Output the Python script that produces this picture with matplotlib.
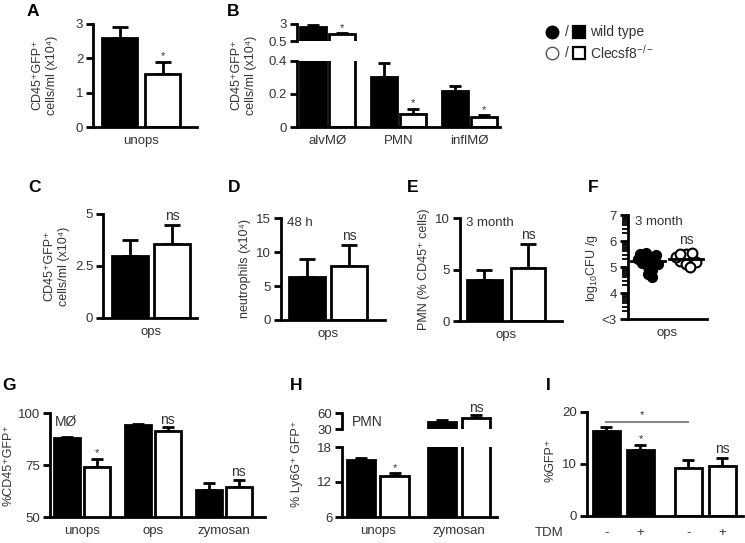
import numpy as np
import matplotlib.pyplot as plt
from matplotlib.lines import Line2D

plt.rcParams['font.family'] = ['Liberation Sans', 'DejaVu Sans']
plt.rcParams['mathtext.fontset'] = 'custom'
plt.rcParams['mathtext.rm'] = 'Liberation Sans'
plt.rcParams['mathtext.it'] = 'Liberation Sans:italic'
plt.rcParams['mathtext.bf'] = 'Liberation Sans:bold'

TXT = '#333333'

# --- data ---
a_label = 'unops'
a_vals = [2.58, 1.54]
a_err = [0.32, 0.35]

b_groups = ['alvMØ', 'PMN', 'inflMØ']
b_wt = [2.6, 0.30, 0.22]
b_wt_err = [0.25, 0.09, 0.03]
b_ko = [1.53, 0.08, 0.06]
b_ko_err = [0.10, 0.03, 0.012]

c_vals = [3.0, 3.55]
c_err = [0.75, 0.9]

d_vals = [6.3, 7.9]
d_err = [2.7, 3.1]

e_vals = [4.0, 5.15]
e_err = [0.95, 2.35]

f_wt = [5.2, 5.25, 5.15, 5.3, 5.1, 5.35, 5.4, 5.0, 5.45, 5.5, 4.9, 5.55, 4.75, 4.6]
f_ko = [5.3, 5.35, 5.25, 5.4, 5.2, 5.5, 5.5, 5.1, 5.55, 5.0]

g_groups = ['unops', 'ops', 'zymosan']
g_wt = [88.0, 94.2, 63.0]
g_wt_err = [0.4, 0.3, 3.5]
g_ko = [74.0, 91.3, 64.5]
g_ko_err = [4.0, 1.9, 3.5]

h_groups = ['unops', 'zymosan']
h_wt = [15.8, 43.0]
h_wt_err = [0.35, 4.0]
h_ko = [13.0, 50.5]
h_ko_err = [0.5, 5.5]

i_tdm = ['-', '+', '-', '+']
i_vals = [16.4, 12.7, 9.2, 9.6]
i_err = [0.7, 1.0, 1.6, 1.6]

W, H = 745, 543
fig = plt.figure(figsize=(W / 100, H / 100), dpi=100)


def add_ax(x0, y0, x1, y1):
    ax = fig.add_axes([x0 / W, 1 - y1 / H, (x1 - x0) / W, (y1 - y0) / H])
    ax.spines[['top', 'right']].set_visible(False)
    ax.spines[['left', 'bottom']].set_linewidth(2)
    ax.tick_params(axis='y', width=2, length=5, labelsize=9.5, labelcolor=TXT, pad=2)
    ax.tick_params(axis='x', length=0, labelsize=9.5, labelcolor=TXT, pad=6)
    ax.patch.set_visible(False)
    return ax


def bars(ax, pos, vals, errs, colors, width, cap):
    ax.errorbar(pos, vals, yerr=[np.zeros(len(vals)), errs], fmt='none', ecolor='k',
                elinewidth=2, capsize=cap, capthick=2, zorder=1)
    ax.bar(pos, vals, width, color=colors, edgecolor='k', linewidth=2, zorder=2)


def mark(ax, x, y, s):
    size = 8 if s == '*' else 10
    ax.text(x, y, s, ha='center', va='bottom', fontsize=size, color=TXT)


def ylab(x, y, s):
    fig.text(x / W, 1 - y / H, s, rotation=90, ha='center', va='center',
             fontsize=9, color=TXT, linespacing=1.3)


def letter(x, y, s):
    fig.text(x / W, 1 - y / H, s, ha='left', va='center', fontsize=12.5, fontweight='bold')


def swarm(vals, center, ypx, xpx, d=4.5, step=2.0):
    # simple beeswarm: nudge each point sideways until it clears the ones already placed
    placed = []
    xs = []
    for v in vals:
        for k in range(400):
            m = (k + 1) // 2
            off = m * step * (1 if k % 2 else -1)
            if all((off - px) ** 2 + (v * ypx - py) ** 2 >= d ** 2 for px, py in placed):
                break
        placed.append((off, v * ypx))
        xs.append(center + off / xpx)
    return xs


# ---------- A ----------
ax = add_ax(93, 24, 197, 127)
bars(ax, [0, 1], a_vals, a_err, ['k', 'w'], 0.81, 6)
ax.set_xlim(-0.62, 1.8)
ax.set_ylim(0, 3)
ax.set_yticks([0, 1, 2, 3])
ax.set_xticks([0.5], [a_label])
mark(ax, 1, a_vals[1] + a_err[1] + 0.02, '*')
ylab(45, 75, 'CD45⁺GFP⁺\ncells/ml (x10⁴)')
letter(27, 11, 'A')

# ---------- B ----------
b_pos_wt = np.arange(3) * 2.45
b_pos_ko = b_pos_wt + 1
axl = add_ax(297, 61, 500, 127)
axu = add_ax(297, 24, 357, 41)
for a in (axl, axu):
    bars(a, b_pos_wt, b_wt, b_wt_err, 'k', 0.9, 4.5)
    bars(a, b_pos_ko, b_ko, b_ko_err, 'w', 0.9, 4.5)
    a.set_xlim(-0.55, 6.45)
axu.set_xlim(-0.55, 1.52)
axl.set_ylim(0, 0.4)
axl.set_yticks([0, 0.2, 0.4], ['0', '0.2', '0.4'])
axl.set_xticks(b_pos_wt + 0.5, b_groups)
axu.set_ylim(0.5, 3)
axu.set_yticks([0.5, 3], ['0.5', '3'])
axu.spines['bottom'].set_visible(False)
axu.set_xticks([])
mark(axu, b_pos_ko[0], b_ko[0] + b_ko_err[0] + 0.05, '*')
for j in (1, 2):
    mark(axl, b_pos_ko[j], b_ko[j] + b_ko_err[j] + 0.003, '*')
ylab(244, 75, 'CD45⁺GFP⁺\ncells/ml (x10⁴)')
letter(227, 11, 'B')

# legend
for row, (fc, lab) in enumerate([('k', 'wild type'), ('w', 'Clecsf8$^{-/-}$')]):
    yy = 1 - (32 + row * 21) / H
    fig.add_artist(Line2D([552 / W], [yy], transform=fig.transFigure, marker='o', ms=9,
                          mfc=fc, mec='k' if fc == 'k' else '#555555', mew=1))
    fig.text(567 / W, yy, '/', ha='center', va='center', fontsize=10, color=TXT)
    fig.add_artist(Line2D([579 / W], [yy], transform=fig.transFigure, marker='s', ms=8,
                          mfc=fc, mec='k', mew=1.6))
    fig.text(590 / W, yy, lab, ha='left', va='center', fontsize=10, color=TXT)

# ---------- C ----------
ax = add_ax(103, 214, 197, 318)
bars(ax, [0, 1], c_vals, c_err, ['k', 'w'], 0.85, 6)
ax.set_xlim(-0.64, 1.58)
ax.set_ylim(0, 5)
ax.set_yticks([0, 2.5, 5], ['0', '2.5', '5'])
ax.set_xticks([0.5], ['ops'])
mark(ax, 1, c_vals[1] + c_err[1] + 0.1, 'ns')
ylab(57, 266, 'CD45⁺GFP⁺\ncells/ml (x10⁴)')
letter(28, 188, 'C')

# ---------- D ----------
ax = add_ax(281, 218, 385, 320)
bars(ax, [0, 1], d_vals, d_err, ['k', 'w'], 0.85, 6)
ax.set_xlim(-0.61, 1.84)
ax.set_ylim(0, 15)
ax.set_yticks([0, 5, 10, 15])
ax.set_xticks([0.5], ['ops'])
mark(ax, 1, d_vals[1] + d_err[1] + 0.3, 'ns')
ax.text(0.06, 0.95, '48 h', transform=ax.transAxes, ha='left', va='center', fontsize=9.5, color=TXT)
ylab(245, 269, 'neutrophils (x10⁴)')
letter(228, 188, 'D')

# ---------- E ----------
ax = add_ax(460, 218, 562, 321)
bars(ax, [0, 1], e_vals, e_err, ['k', 'w'], 0.8, 6)
ax.set_xlim(-0.56, 1.78)
ax.set_ylim(0, 10)
ax.set_yticks([0, 5, 10])
ax.set_xticks([0.5], ['ops'])
mark(ax, 1, e_vals[1] + e_err[1] + 0.2, 'ns')
ax.text(0.06, 0.95, '3 month', transform=ax.transAxes, ha='left', va='center', fontsize=9.5, color=TXT)
ylab(424, 269, 'PMN (% CD45⁺ cells)')
letter(407, 188, 'E')

# ---------- F ----------
ax = add_ax(628, 215, 707, 319)
ax.set_xlim(-0.53, 1.55)
ax.set_ylim(3, 7)
ypx, xpx = 26.0, 38.0
ax.scatter(swarm(f_wt, 0, ypx, xpx), f_wt, s=50, c='k', zorder=2)
ax.scatter(swarm(f_ko, 1, ypx, xpx), f_ko, s=50, facecolor='w', edgecolor='k',
           linewidths=1.5, zorder=2)
for p, v in ((0, f_wt), (1, f_ko)):
    ax.plot([p - 0.45, p + 0.45], [np.median(v)] * 2, color='k', lw=2, zorder=3)
ax.set_yticks([3, 4, 5, 6, 7], ['<3', '4', '5', '6', '7'])
ax.set_yticks([n + np.log10(k) for n in range(3, 7) for k in range(2, 10)], minor=True)
ax.tick_params(axis='y', which='major', length=6)
ax.tick_params(axis='y', which='minor', length=4, width=1.3)
ax.set_xticks([0.5], ['ops'])
mark(ax, 1, 5.75, 'ns')
ax.text(0.09, 0.93, '3 month', transform=ax.transAxes, ha='left', va='center', fontsize=9.5, color=TXT)
ylab(592, 268, 'log$_{10}$CFU /g')
letter(588, 188, 'F')

# ---------- G ----------
g_pos_wt = np.arange(3) * 2.41
g_pos_ko = g_pos_wt + 1
ax = add_ax(50, 413, 265, 517)
bars(ax, g_pos_wt, g_wt, g_wt_err, 'k', 0.88, 4.5)
bars(ax, g_pos_ko, g_ko, g_ko_err, 'w', 0.88, 4.5)
ax.set_xlim(-0.58, 6.71)
ax.set_ylim(50, 100)
ax.set_yticks([50, 75, 100])
ax.set_xticks(g_pos_wt + 0.5, g_groups)
mark(ax, g_pos_ko[0], g_ko[0] + g_ko_err[0] + 0.3, '*')
for j in (1, 2):
    mark(ax, g_pos_ko[j], g_ko[j] + g_ko_err[j] + 0.3, 'ns')
ax.text(0.025, 0.91, 'MØ', transform=ax.transAxes, ha='left', va='center', fontsize=10, color=TXT)
ylab(9, 465, '%CD45⁺GFP⁺')
letter(2, 385, 'G')

# ---------- H ----------
h_pos_wt = np.arange(2) * 2.43
h_pos_ko = h_pos_wt + 1
axl = add_ax(342, 447, 497, 517)
axu = add_ax(342, 413, 497, 429)
for a in (axl, axu):
    bars(a, h_pos_wt, h_wt, h_wt_err, 'k', 0.84, 4.5)
    bars(a, h_pos_ko, h_ko, h_ko_err, 'w', 0.84, 4.5)
    a.set_xlim(-0.57, 4.06)
axl.set_ylim(6, 18)
axl.set_yticks([6, 12, 18])
axl.set_xticks(h_pos_wt + 0.5, h_groups)
axu.set_ylim(30, 60)
axu.set_yticks([30, 60])
axu.spines['bottom'].set_visible(False)
axu.set_xticks([])
mark(axl, h_pos_ko[0], h_ko[0] + h_ko_err[0] + 0.1, '*')
mark(axu, h_pos_ko[1], h_ko[1] + h_ko_err[1] + 1, 'ns')
axu.text(0.065, 0.45, 'PMN', transform=axu.transAxes, ha='left', va='center', fontsize=10, color=TXT)
ylab(297, 464, '% Ly6G⁺ GFP⁺')
letter(290, 385, 'H')

# ---------- I ----------
i_pos = [0, 1, 2.4, 3.4]
ax = add_ax(587, 412, 743, 516)
bars(ax, i_pos, i_vals, i_err, ['k', 'k', 'w', 'w'], 0.8, 4.5)
ax.set_xlim(-0.57, 4.01)
ax.set_ylim(0, 20)
ax.set_yticks([0, 10, 20])
ax.set_xticks(i_pos, i_tdm)
ax.tick_params(axis='x', pad=8)
mark(ax, i_pos[1], i_vals[1] + i_err[1] + 0.1, '*')
mark(ax, i_pos[3], i_vals[3] + i_err[3] + 0.3, 'ns')
ax.plot([i_pos[0], i_pos[2]], [18.1, 18.1], color='#888888', lw=1.5, clip_on=False)
mark(ax, (i_pos[0] + i_pos[2]) / 2 - 0.15, 18.4, '*')
fig.text(535 / W, 1 - 533 / H, 'TDM', ha='left', va='center', fontsize=9.5, color=TXT)
ylab(550, 460, '%GFP⁺')
letter(546, 385, 'I')

fig.savefig('out.png', dpi=100)
